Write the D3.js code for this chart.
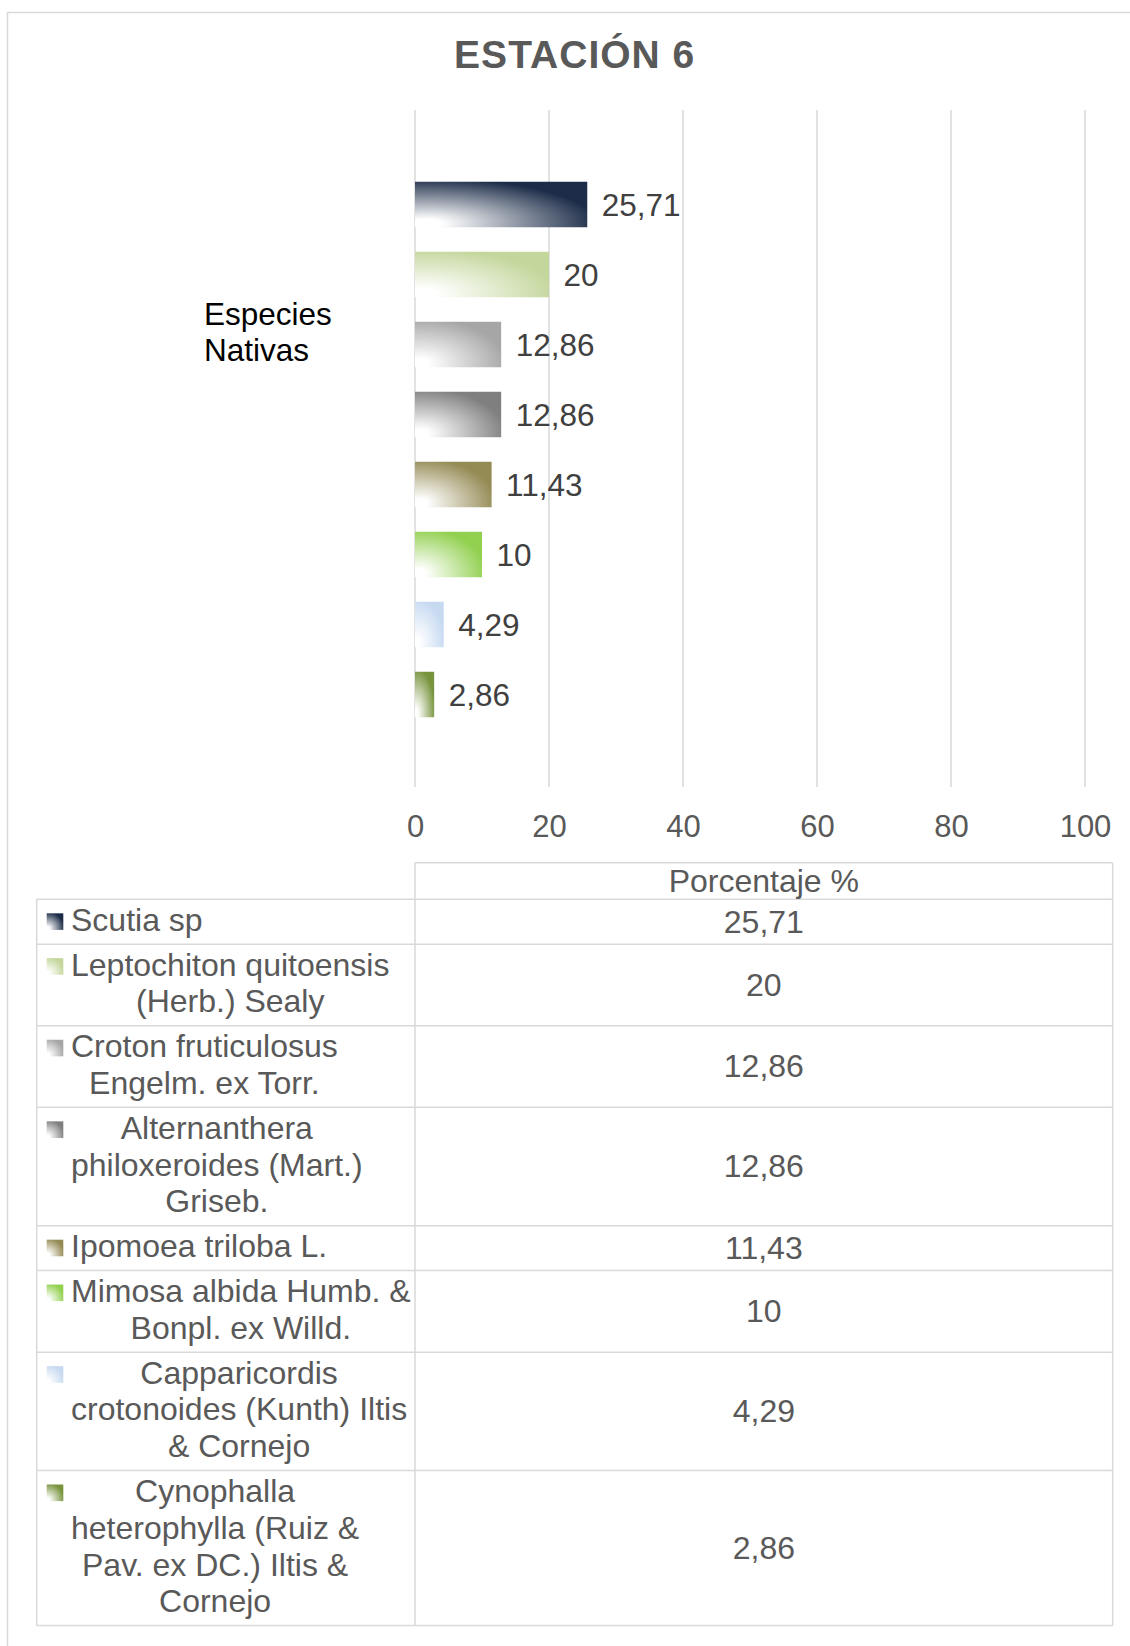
<!DOCTYPE html>
<html>
<head>
<meta charset="utf-8">
<script src="https://cdn.jsdelivr.net/npm/d3@7"></script>
<style>
  html, body { margin: 0; padding: 0; background: #ffffff; }
  svg { display: block; font-family: "Liberation Sans", Arial, sans-serif; }
</style>
</head>
<body>
<svg id="chart" width="1130" height="1646"></svg>
<script>
// ---------------- data ----------------
const chartTitle = "ESTACIÓN 6";
const categoryLabel = ["Especies", "Nativas"];
const valueHeader = "Porcentaje %";
const species = [
  "Scutia sp",
  "Leptochiton quitoensis (Herb.) Sealy",
  "Croton fruticulosus Engelm. ex Torr.",
  "Alternanthera philoxeroides (Mart.) Griseb.",
  "Ipomoea triloba L.",
  "Mimosa albida Humb. & Bonpl. ex Willd.",
  "Capparicordis crotonoides (Kunth) Iltis & Cornejo",
  "Cynophalla heterophylla (Ruiz & Pav. ex DC.) Iltis & Cornejo"
];
const values = [25.71, 20, 12.86, 12.86, 11.43, 10, 4.29, 2.86];
const seriesColors = ["#1c2c48", "#c3d69b", "#a6a6a6", "#7f7f7f", "#948a54", "#92d050", "#c6d9f1", "#77933c"];
const xTicks = [0, 20, 40, 60, 80, 100];

// ---------------- helpers ----------------
const fmt = v => String(v).replace(".", ",");
const svg = d3.select("#chart");
const FONT = "'Liberation Sans', Arial, sans-serif";

// gradients
const defs = svg.append("defs");
seriesColors.forEach((c, i) => {
  const g = defs.append("radialGradient")
    .attr("id", "grad" + i)
    .attr("gradientUnits", "objectBoundingBox")
    .attr("cx", 0.06).attr("cy", 0.92).attr("r", 1.0)
    .attr("fx", 0.06).attr("fy", 0.92);
  g.append("stop").attr("offset", "0").attr("stop-color", "#ffffff");
  g.append("stop").attr("offset", "0.1").attr("stop-color", "#ffffff");
  g.append("stop").attr("offset", "1").attr("stop-color", c);
});

// outer border
svg.append("rect")
  .attr("x", 7.5).attr("y", 12.5).attr("width", 1200).attr("height", 1700)
  .attr("fill", "none").attr("stroke", "#d9d9d9").attr("stroke-width", 1.5);

// title
svg.append("text")
  .attr("x", 574.7).attr("y", 68.3)
  .attr("text-anchor", "middle")
  .attr("font-size", 39).attr("font-weight", "bold")
  .attr("letter-spacing", 1)
  .attr("fill", "#595959")
  .text(chartTitle);

// scales
const x = d3.scaleLinear().domain([0, 100]).range([415, 1085]);
const y = d3.scaleBand().domain(species).range([169.5, 729.5])
  .paddingInner(0.35).paddingOuter(0.175);

const gridTop = 110, gridBottom = 787;

// gridlines
svg.append("g").selectAll("line").data(xTicks).join("line")
  .attr("x1", d => x(d)).attr("x2", d => x(d))
  .attr("y1", gridTop).attr("y2", gridBottom)
  .attr("stroke", "#d9d9d9").attr("stroke-width", 1.5);

// x axis tick labels via d3 axis
const xAxis = d3.axisBottom(x).tickValues(xTicks).tickSize(0).tickPadding(0).tickFormat(d => d);
const axG = svg.append("g").attr("transform", `translate(0, 815)`).call(xAxis);
axG.select(".domain").remove();
axG.selectAll("text")
  .attr("font-family", FONT).attr("font-size", 31).attr("fill", "#595959")
  .attr("dy", "0.71em");

// bars
svg.append("g").selectAll("rect").data(species).join("rect")
  .attr("x", x(0))
  .attr("y", d => y(d))
  .attr("width", (d, i) => x(values[i]) - x(0))
  .attr("height", y.bandwidth())
  .attr("fill", (d, i) => `url(#grad${i})`);

// value labels
svg.append("g").selectAll("text").data(species).join("text")
  .attr("x", (d, i) => x(values[i]) + 14.5)
  .attr("y", d => y(d) + y.bandwidth() / 2)
  .attr("dy", "0.35em")
  .attr("font-size", 31.5).attr("fill", "#404040")
  .text((d, i) => fmt(values[i]));

// category label
svg.append("text")
  .attr("x", 204).attr("y", 325)
  .attr("font-size", 31.5).attr("fill", "#000000")
  .selectAll("tspan").data(categoryLabel).join("tspan")
  .attr("x", 204).attr("dy", (d, i) => i === 0 ? 0 : 35.7)
  .text(d => d);

// ---------------- data table ----------------
const tblLeft = 36.7, tblMid = x(0), tblRight = 1112.7;
const headerTop = 862.7, headerBottom = 899.3;
const lineH = 36.75, rowPad = 8.1;
const tFont = 32;

// wrap text using measured widths
const canvas = document.createElement("canvas");
const ctx = canvas.getContext("2d");
ctx.font = `${tFont}px 'Liberation Sans', Arial, sans-serif`;
const maxW = 10.67 * tFont;
function wrap(str) {
  const words = str.split(" ");
  const lines = [];
  let cur = "";
  words.forEach(w => {
    const test = cur ? cur + " " + w : w;
    if (cur && ctx.measureText(test).width > maxW) { lines.push(cur); cur = w; }
    else cur = test;
  });
  if (cur) lines.push(cur);
  return lines;
}
const wrapped = species.map(wrap);

let acc = headerBottom;
const rows = wrapped.map((lines, i) => {
  const h = lines.length * lineH + rowPad;
  const r = { top: acc, h, lines, i };
  acc += h;
  return r;
});
const tblBottom = acc;

const border = { stroke: "#d9d9d9", w: 1.5 };
const tg = svg.append("g");
tg.append("line").attr("x1", tblMid).attr("x2", tblRight).attr("y1", headerTop).attr("y2", headerTop);
tg.append("line").attr("x1", tblMid).attr("x2", tblMid).attr("y1", headerTop).attr("y2", tblBottom);
tg.append("line").attr("x1", tblRight).attr("x2", tblRight).attr("y1", headerTop).attr("y2", tblBottom);
tg.append("line").attr("x1", tblLeft).attr("x2", tblLeft).attr("y1", headerBottom).attr("y2", tblBottom);
tg.selectAll("line.h").data([headerBottom].concat(rows.map(r => r.top + r.h))).join("line")
  .attr("class", "h")
  .attr("x1", tblLeft).attr("x2", tblRight).attr("y1", d => d).attr("y2", d => d);
tg.selectAll("line").attr("stroke", border.stroke).attr("stroke-width", border.w);

// header text
svg.append("text")
  .attr("x", (tblMid + tblRight) / 2).attr("y", (headerTop + headerBottom) / 2)
  .attr("dy", "0.34em").attr("text-anchor", "middle")
  .attr("font-size", tFont).attr("fill", "#595959")
  .text(valueHeader);

// legend keys
svg.append("g").selectAll("rect").data(rows).join("rect")
  .attr("x", 46.7).attr("y", r => r.top + 14)
  .attr("width", 16.6).attr("height", 16.6)
  .attr("fill", r => `url(#grad${r.i})`);

// species names
const textLeft = 71;
rows.forEach(r => {
  const widths = r.lines.map(l => ctx.measureText(l).width);
  const bw = d3.max(widths);
  const t = svg.append("text")
    .attr("font-size", tFont).attr("fill", "#595959")
    .attr("text-anchor", "middle");
  t.selectAll("tspan").data(r.lines).join("tspan")
    .attr("x", textLeft + bw / 2)
    .attr("y", (d, j) => r.top + 31.5 + j * lineH)
    .text(d => d);
});

// values in table
svg.append("g").selectAll("text").data(rows).join("text")
  .attr("x", (tblMid + tblRight) / 2)
  .attr("y", r => r.top + r.h / 2)
  .attr("dy", "0.34em").attr("text-anchor", "middle")
  .attr("font-size", tFont).attr("fill", "#595959")
  .text(r => fmt(values[r.i]));
</script>
</body>
</html>
